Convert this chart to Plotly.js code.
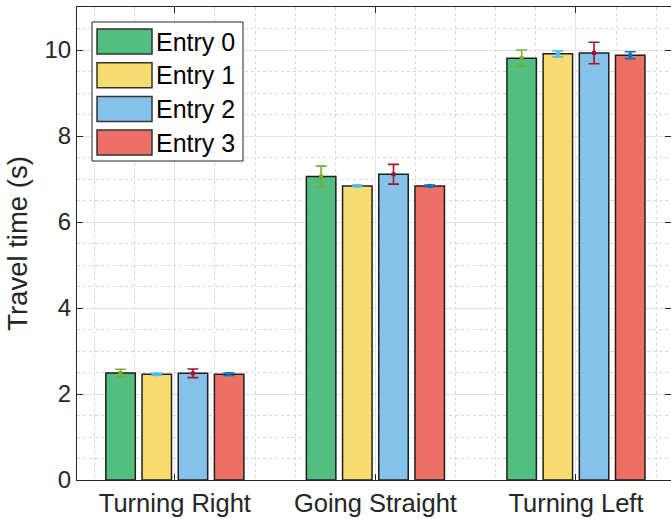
<!DOCTYPE html>
<html>
<head>
<meta charset="utf-8">
<script src="https://cdn.plot.ly/plotly-3.0.1.min.js"></script>
<style>html,body{margin:0;padding:0;background:#fff}#chart{width:671px;height:519px}</style>
</head>
<body>
<div id="chart"></div>
<script>
// ---- data ----
const categories = ["Turning Right", "Going Straight", "Turning Left"];
const seriesNames = ["Entry 0", "Entry 1", "Entry 2", "Entry 3"];
const entry0 = [2.49, 7.06, 9.81];
const entry1 = [2.46, 6.84, 9.91];
const entry2 = [2.48, 7.11, 9.93];
const entry3 = [2.46, 6.84, 9.88];
const err0 = [0.085, 0.24, 0.19];
const err1 = [0.02, 0.02, 0.07];
const err2 = [0.10, 0.23, 0.25];
const err3 = [0.03, 0.02, 0.08];
const yTicks = [0, 2, 4, 6, 8, 10];

// ---- style ----
const barColors = ["#52BE80", "#F7DC6F", "#85C1E9", "#EC7063"];
const errColors = ["#77AC30", "#4DBEEE", "#A2142F", "#0072BD"];
const values = [entry0, entry1, entry2, entry3];
const errors = [err0, err1, err2, err3];
const slot = 0.1805, barW = 0.147;
const font = "Liberation Sans, Arial, Helvetica, sans-serif";
const txt = "#262626";

const traces = [];
values.forEach((vals, k) => {
  const xs = categories.map((_, g) => g + 1 + (k - 1.5) * slot);
  traces.push({
    type: "bar", x: xs, y: vals, width: barW, name: seriesNames[k],
    marker: {color: barColors[k], line: {color: "#1f1f1f", width: 1.5}},
    showlegend: false, hoverinfo: "skip"
  });
});
values.forEach((vals, k) => {
  const xs = categories.map((_, g) => g + 1 + (k - 1.5) * slot);
  traces.push({
    type: "scatter", mode: "markers", x: xs, y: vals,
    marker: {symbol: "square", size: 4, color: errColors[k]},
    error_y: {type: "data", array: errors[k], visible: true, color: errColors[k], thickness: 1.6, width: 5.5},
    showlegend: false, hoverinfo: "skip"
  });
});

// legend drawn manually (MATLAB-style large swatches)
const L = 77, R = 671, T = 7, B = 480;
const px = v => (v - L) / (R - L);
const py = v => (B - v) / (B - T);
const shapes = [{
  type: "rect", xref: "paper", yref: "paper",
  x0: px(92), x1: px(243), y0: py(161), y1: py(22),
  fillcolor: "#ffffff", line: {color: "#262626", width: 1}
}];
const annotations = [];
seriesNames.forEach((n, i) => {
  const top = 29 + i * 33.7;
  shapes.push({
    type: "rect", xref: "paper", yref: "paper",
    x0: px(97), x1: px(152), y0: py(top + 25), y1: py(top),
    fillcolor: barColors[i], line: {color: "#333333", width: 1.5}
  });
  annotations.push({
    xref: "paper", yref: "paper", x: px(154), y: py(top + 12.5),
    xanchor: "left", yanchor: "middle", showarrow: false,
    text: n, font: {family: font, size: 25, color: "#000"}
  });
});

const layout = {
  width: 671, height: 519,
  margin: {l: L, r: 671 - R, t: T, b: 519 - B},
  paper_bgcolor: "#fff", plot_bgcolor: "#fff",
  barmode: "overlay",
  font: {family: font, size: 24, color: txt},
  xaxis: {
    range: [0.512, 3.474],
    tickmode: "array", tickvals: categories.map((_, g) => g + 1), ticktext: categories,
    ticks: "inside", ticklen: 6, tickcolor: txt,
    showline: true, linecolor: txt, linewidth: 1, mirror: "ticks",
    showgrid: true, gridcolor: "#e2e2e2", gridwidth: 1,
    minor: {tickmode: "linear", tick0: 0, dtick: 0.2, showgrid: true, gridcolor: "#d6d6d6", griddash: "dot", gridwidth: 1, ticks: ""},
    zeroline: false, tickfont: {size: 25.5, color: txt}
  },
  yaxis: {
    range: [0, 11],
    tickmode: "array", tickvals: yTicks,
    ticks: "inside", ticklen: 6, tickcolor: txt,
    showline: true, linecolor: txt, linewidth: 1, mirror: "ticks",
    showgrid: true, gridcolor: "#e2e2e2", gridwidth: 1,
    minor: {tickmode: "linear", tick0: 0, dtick: 0.5, showgrid: true, gridcolor: "#d6d6d6", griddash: "dot", gridwidth: 1, ticks: ""},
    zeroline: false, tickfont: {size: 24, color: txt},
    title: {text: "Travel time (s)", font: {size: 27.5, color: txt}, standoff: 8}
  },
  shapes: shapes,
  annotations: annotations,
  showlegend: false
};

Plotly.newPlot("chart", traces, layout, {displayModeBar: false, staticPlot: true});
</script>
</body>
</html>
